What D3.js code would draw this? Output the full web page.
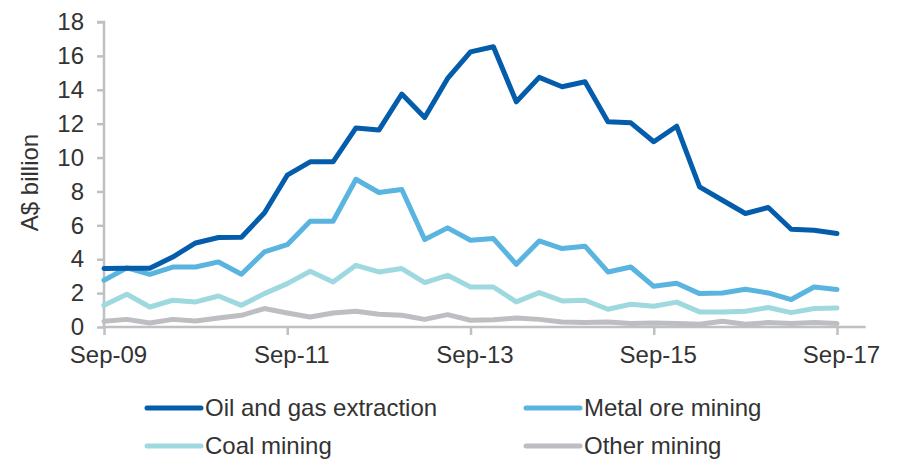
<!DOCTYPE html>
<html>
<head>
<meta charset="utf-8">
<script src="https://cdn.jsdelivr.net/npm/d3@7"></script>
<style>
  html, body { margin: 0; padding: 0; background: #fff; }
  svg { display: block; font-family: "Liberation Sans", Arial, sans-serif; }
</style>
</head>
<body>
<svg id="chart" width="897" height="459"></svg>
<script>
// Quarterly mining investment, Sep-09 to Sep-17 (A$ billion)
const quarters = d3.range(33); // 0 = Sep-09 ... 32 = Sep-17
const tickLabels = ["Sep-09", "Sep-11", "Sep-13", "Sep-15", "Sep-17"];
const tickIndex = [0, 8, 16, 24, 32];
const yTicks = [0, 2, 4, 6, 8, 10, 12, 14, 16, 18];

const oilGas = [3.45, 3.47, 3.47, 4.13, 4.96, 5.28, 5.30, 6.73, 8.96, 9.75, 9.75, 11.75, 11.62,
  13.75, 12.37, 14.67, 16.24, 16.54, 13.29, 14.73, 14.18, 14.47, 12.11, 12.05, 10.93, 11.85,
  8.27, 7.48, 6.70, 7.05, 5.77, 5.71, 5.52];
const metalOre = [2.76, 3.49, 3.11, 3.54, 3.54, 3.84, 3.11, 4.43, 4.86, 6.24, 6.24, 8.72, 7.94,
  8.11, 5.16, 5.85, 5.12, 5.22, 3.70, 5.08, 4.63, 4.77, 3.25, 3.54, 2.40, 2.58,
  1.97, 2.01, 2.23, 2.01, 1.62, 2.36, 2.21];
const coal = [1.28, 1.93, 1.18, 1.58, 1.48, 1.83, 1.28, 1.97, 2.56, 3.29, 2.66, 3.64, 3.25,
  3.45, 2.62, 3.05, 2.36, 2.36, 1.48, 2.03, 1.54, 1.58, 1.05, 1.34, 1.22, 1.47,
  0.89, 0.89, 0.93, 1.15, 0.85, 1.09, 1.12];
const otherMining = [0.34, 0.45, 0.24, 0.45, 0.35, 0.53, 0.69, 1.09, 0.83, 0.59, 0.83, 0.93, 0.75,
  0.69, 0.45, 0.73, 0.40, 0.43, 0.53, 0.45, 0.30, 0.27, 0.30, 0.20, 0.24, 0.20,
  0.16, 0.34, 0.16, 0.26, 0.20, 0.26, 0.20];

const seriesNames = ["Oil and gas extraction", "Metal ore mining", "Coal mining", "Other mining"];
const seriesValues = [oilGas, metalOre, coal, otherMining];
const seriesColors = ["#045DAB", "#5AB4E0", "#9ED9DF", "#BCBEC1"];

const svg = d3.select("#chart");
const textColor = "#333333";
const axisColor = "#BFC0C2";
const fontSize = 24;

const x = d3.scaleLinear().domain([0, 32]).range([104, 837]);
const y = d3.scaleLinear().domain([0, 18]).range([327, 22]);
const xEnd = x(33.25);

// Y axis
const yAxis = d3.axisLeft(y).tickValues(yTicks).tickSize(7).tickPadding(13).tickFormat(d3.format("d"));
const gy = svg.append("g").attr("transform", `translate(${x(0)},0)`).call(yAxis);
gy.select(".domain").attr("stroke", axisColor).attr("stroke-width", 2.5).attr("d", `M-7,${y(18)}H0V${y(0)}`);
gy.selectAll(".tick line").attr("stroke", axisColor).attr("stroke-width", 2.5);
gy.selectAll(".tick text").attr("fill", textColor).style("font-size", fontSize + "px");

// X axis
const xAxis = d3.axisBottom(x).tickValues(tickIndex).tickSize(8).tickPadding(11)
  .tickFormat((d, i) => tickLabels[i]);
const gx = svg.append("g").attr("transform", `translate(0,${y(0)})`).call(xAxis);
gx.select(".domain").attr("stroke", axisColor).attr("stroke-width", 2.5).attr("d", `M${x(0)},0H${xEnd}`);
gx.selectAll(".tick line").attr("stroke", axisColor).attr("stroke-width", 2.5);
gx.selectAll(".tick text").attr("fill", textColor).style("font-size", fontSize + "px").attr("dx", 4);

// Y axis title
svg.append("text")
  .attr("transform", `translate(38,${(y(0) + y(18)) / 2 + 8}) rotate(-90)`)
  .attr("text-anchor", "middle")
  .attr("fill", textColor)
  .style("font-size", fontSize + "px")
  .text("A$ billion");

// Series lines (drawn back to front so oil and gas sits on top)
const line = d3.line().x((d, i) => x(i)).y(d => y(d));
for (let s = seriesValues.length - 1; s >= 0; s--) {
  svg.append("path")
    .datum(seriesValues[s])
    .attr("fill", "none")
    .attr("stroke", seriesColors[s])
    .attr("stroke-width", 5)
    .attr("stroke-linejoin", "round")
    .attr("stroke-linecap", "round")
    .attr("d", line);
}

// Legend, two columns by two rows
const legendX = [147, 526];
const legendY = [408, 446];
seriesNames.forEach((name, i) => {
  const lx = legendX[i % 2];
  const ly = legendY[Math.floor(i / 2)];
  const g = svg.append("g").attr("transform", `translate(${lx},${ly})`);
  g.append("line")
    .attr("x1", 0).attr("x2", 54).attr("y1", 0).attr("y2", 0)
    .attr("stroke", seriesColors[i]).attr("stroke-width", 5).attr("stroke-linecap", "round");
  g.append("text")
    .attr("x", 58).attr("y", 8)
    .attr("fill", textColor)
    .style("font-size", fontSize + "px")
    .text(name);
});
</script>
</body>
</html>
